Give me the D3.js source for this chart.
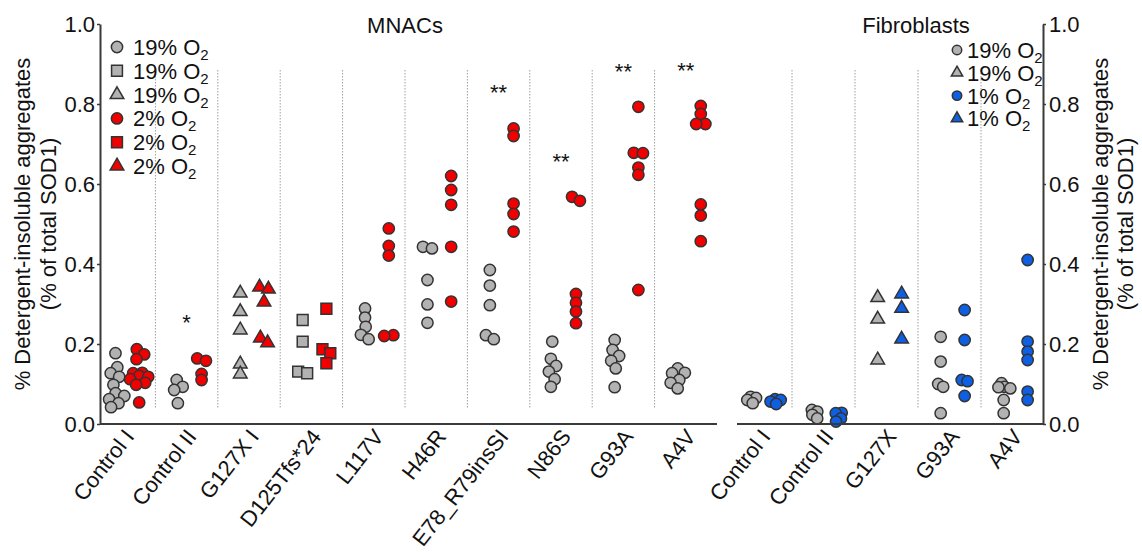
<!DOCTYPE html>
<html>
<head>
<meta charset="utf-8">
<script src="https://cdnjs.cloudflare.com/ajax/libs/d3/7.8.5/d3.min.js"></script>
<style>
  html, body { margin: 0; padding: 0; background: #fff; }
  svg { display: block; font-family: "Liberation Sans", Arial, sans-serif; }
</style>
</head>
<body>
<svg id="chart" width="1142" height="552"></svg>
<script>
// ---------------- DATA ----------------
const mnacGroups = ["Control I","Control II","G127X I","D125Tfs*24","L117V","H46R","E78_R79insSI","N86S","G93A","A4V"];
const mnacShape  = ["circle","circle","triangle","square","circle","circle","circle","circle","circle","circle"];
const mnac19 = [
  [0.177,0.142,0.127,0.118,0.098,0.077,0.070,0.062,0.052,0.042],
  [0.110,0.093,0.085,0.052],
  [0.327,0.281,0.235,0.150,0.125],
  [0.260,0.206,0.131,0.127],
  [0.289,0.266,0.243,0.223,0.212],
  [0.443,0.439,0.360,0.299,0.253],
  [0.385,0.346,0.297,0.222,0.212],
  [0.206,0.163,0.145,0.131,0.112,0.093],
  [0.210,0.185,0.170,0.158,0.139,0.092],
  [0.139,0.128,0.127,0.110,0.103,0.089]
];
const mnac2 = [
  [0.187,0.174,0.162,0.128,0.127,0.120,0.118,0.112,0.103,0.098,0.054],
  [0.164,0.158,0.125,0.110],
  [0.342,0.337,0.305,0.215,0.203],
  [0.288,0.187,0.177,0.152],
  [0.489,0.445,0.421,0.222,0.220],
  [0.620,0.585,0.548,0.443,0.306],
  [0.739,0.720,0.551,0.525,0.481],
  [0.568,0.558,0.325,0.303,0.281,0.252],
  [0.793,0.678,0.677,0.641,0.623,0.335],
  [0.795,0.775,0.750,0.750,0.549,0.521,0.457]
];
const mnacSig = ["","*","","","","","**","**","**","**"];

const fibGroups = ["Control I","Control II","G127X","G93A","A4V"];
const fibShape  = ["circle","circle","triangle","circle","circle"];
const fib19 = [
  [0.068,0.065,0.060,0.052],
  [0.035,0.031,0.023,0.014],
  [0.316,0.262,0.160],
  [0.218,0.156,0.100,0.093,0.027],
  [0.102,0.093,0.092,0.089,0.060,0.027]
];
const fib1 = [
  [0.062,0.060,0.056,0.050],
  [0.028,0.027,0.014,0.006],
  [0.325,0.289,0.212],
  [0.285,0.210,0.110,0.107,0.070],
  [0.410,0.206,0.181,0.160,0.081,0.060]
];

const yTicks = [0, 0.2, 0.4, 0.6, 0.8, 1.0];
const mnacLegendShape = ["circle","square","triangle","circle","square","triangle"];
const mnacLegendCond  = ["19","19","19","2","2","2"];
const mnacLegendText  = ["19% O","19% O","19% O","2% O","2% O","2% O"];
const fibLegendShape  = ["circle","triangle","circle","triangle"];
const fibLegendCond   = ["19","19","1","1"];
const fibLegendText   = ["19% O","19% O","1% O","1% O"];

// ---------------- STYLE ----------------
const colors = { "19": "#b2b2b2", "2": "#f20000", "1": "#0d5fe3" };
const stroke = "#333";
const symbolType = { circle: d3.symbolCircle, square: d3.symbolSquare, triangle: d3.symbolTriangle };
const symbolSize = { circle: 100, square: 118, triangle: 80 };

const svg = d3.select("#chart");
const y = d3.scaleLinear().domain([0, 1]).range([424, 24]);

const xM = d3.scaleBand().domain(mnacGroups).range([93, 717]);
const xF = d3.scaleBand().domain(fibGroups).range([729, 1044]);

function panel(xScale, groups, shapes, v19, vHi, hiCond, collideR) {
  const bw = xScale.bandwidth();
  const g = svg.append("g");
  // separators
  g.selectAll("line.sep").data(groups.slice(1)).join("line")
    .attr("x1", d => xScale(d)).attr("x2", d => xScale(d))
    .attr("y1", y(0.885)).attr("y2", y(0.04))
    .attr("stroke", "#a0a0a0").attr("stroke-width", 1).attr("stroke-dasharray", "1.5,1.5");

  groups.forEach((grp, i) => {
    const nodes = [];
    v19[i].forEach(v => nodes.push({ v, cond: "19", shape: shapes[i], x0: xScale(grp) + bw * 0.36 }));
    vHi[i].forEach(v => nodes.push({ v, cond: hiCond, shape: shapes[i], x0: xScale(grp) + bw * 0.74 }));
    nodes.forEach(n => { n.ty = y(n.v); n.x = n.x0; n.y = n.ty; });
    const sim = d3.forceSimulation(nodes)
      .force("x", d3.forceX(d => d.x0).strength(0.16))
      .force("y", d3.forceY(d => d.ty).strength(1))
      .force("c", d3.forceCollide(collideR))
      .stop();
    for (let k = 0; k < 300; k++) sim.tick();
    g.selectAll(null).data(nodes).join("path")
      .attr("transform", d => `translate(${d.x},${d.ty})`)
      .attr("d", d => d3.symbol(symbolType[d.shape], symbolSize[d.shape])())
      .attr("fill", d => colors[d.cond])
      .attr("stroke", stroke).attr("stroke-width", 1.5);
  });
  return g;
}

panel(xM, mnacGroups, mnacShape, mnac19, mnac2, "2", 4.6);
panel(xF, fibGroups, fibShape, fib19, fib1, "1", 3);

// significance stars
svg.append("g").selectAll("text").data(mnacGroups).join("text")
  .attr("x", d => xM(d) + xM.bandwidth() / 2)
  .attr("y", (d, i) => y(d3.max(mnac2[i]) + 0.1) + 12)
  .attr("text-anchor", "middle").attr("font-size", 22).attr("fill", "#111")
  .text((d, i) => mnacSig[i]);

// axes
const axisColor = "#3a3a3a";
function styleAxis(g) {
  g.selectAll(".domain").attr("stroke", axisColor).attr("stroke-width", 2);
  g.selectAll(".tick line").attr("stroke", axisColor).attr("stroke-width", 1.5);
  g.selectAll(".tick text").attr("font-size", 22).attr("fill", "#111")
    .attr("font-family", "Liberation Sans, Arial, sans-serif");
}
const yl = svg.append("g").attr("transform", "translate(100,0)")
  .call(d3.axisLeft(y).tickValues(yTicks).tickFormat(d3.format(".1f")).tickSize(3).tickPadding(2).tickSizeOuter(0));
styleAxis(yl);
const yr = svg.append("g").attr("transform", "translate(1043,0)")
  .call(d3.axisRight(y).tickValues(yTicks).tickFormat(d3.format(".1f")).tickSize(3).tickPadding(3).tickSizeOuter(0));
styleAxis(yr);

// x baselines
svg.append("line").attr("x1", 100).attr("x2", 717).attr("y1", 424).attr("y2", 424)
  .attr("stroke", axisColor).attr("stroke-width", 2);
svg.append("line").attr("x1", 737).attr("x2", 1043).attr("y1", 424).attr("y2", 424)
  .attr("stroke", axisColor).attr("stroke-width", 2);

function xLabels(scale) {
  const g = svg.append("g").attr("transform", "translate(0,424)")
    .call(d3.axisBottom(scale).tickSize(0));
  g.select(".domain").remove();
  g.selectAll(".tick text")
    .attr("font-size", 22).attr("fill", "#111")
    .attr("font-family", "Liberation Sans, Arial, sans-serif")
    .attr("x", 0).attr("y", 0).attr("dy", 0)
    .attr("text-anchor", "end")
    .attr("transform", "translate(11,13) rotate(-52)");
}
xLabels(xM);
xLabels(xF);

// panel titles
svg.append("text").attr("x", 405).attr("y", 33).attr("text-anchor", "middle")
  .attr("font-size", 22).attr("fill", "#111").text("MNACs");
svg.append("text").attr("x", 916).attr("y", 33).attr("text-anchor", "middle")
  .attr("font-size", 22).attr("fill", "#111").text("Fibroblasts");

// y titles
function yTitle(xa, xb) {
  const cy = 224;
  svg.append("text").attr("transform", `translate(${xa},${cy}) rotate(-90)`)
    .attr("text-anchor", "middle").attr("font-size", 22).attr("fill", "#111")
    .text("% Detergent-insoluble aggregates");
  svg.append("text").attr("transform", `translate(${xb},${cy}) rotate(-90)`)
    .attr("text-anchor", "middle").attr("font-size", 22).attr("fill", "#111")
    .text("(% of total SOD1)");
}
yTitle(30, 56);
yTitle(1108, 1133);

// legends
function legend(x0, y0, step, shapes, conds, texts, scale) {
  const g = svg.append("g");
  shapes.forEach((s, i) => {
    const cy = y0 + i * step;
    g.append("path").attr("transform", `translate(${x0},${cy})`)
      .attr("d", d3.symbol(symbolType[s], symbolSize[s] * scale)())
      .attr("fill", colors[conds[i]]).attr("stroke", stroke).attr("stroke-width", 1.5);
    const t = g.append("text").attr("x", x0 + (scale < 1 ? 10 : 16)).attr("y", cy + 8)
      .attr("font-size", 22).attr("fill", "#111");
    t.append("tspan").text(texts[i]);
    t.append("tspan").attr("dy", 5).attr("font-size", 15).text("2");
  });
}
legend(117, 47, 23.8, mnacLegendShape, mnacLegendCond, mnacLegendText, 1);
legend(957, 50, 22.8, fibLegendShape, fibLegendCond, fibLegendText, 0.7);
</script>
</body>
</html>
